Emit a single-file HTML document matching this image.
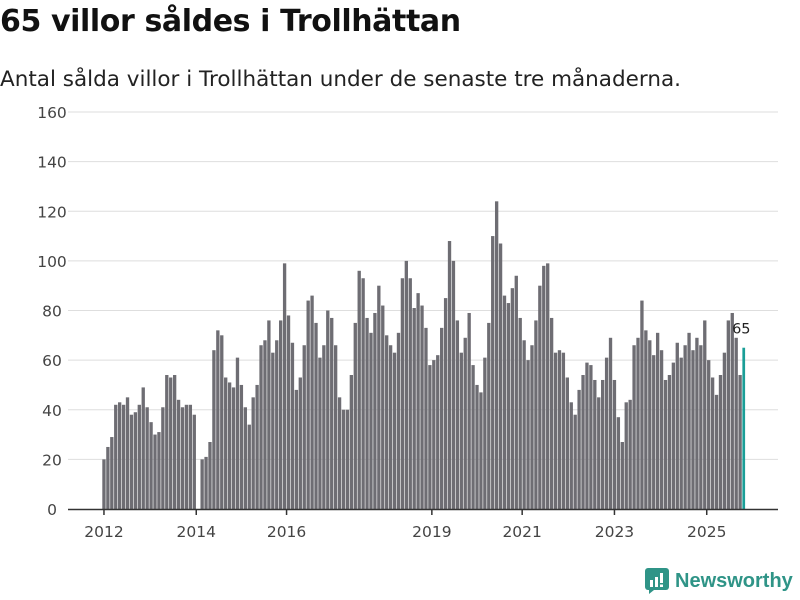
<!DOCTYPE html>
<html><head><meta charset="utf-8"><style>
body{margin:0;width:800px;height:600px;background:#fff;font-family:"DejaVu Sans","Liberation Sans",sans-serif;overflow:hidden;position:relative}
#title{position:absolute;left:0;top:4px;font-size:30px;font-weight:bold;color:#111;margin:0;letter-spacing:-0.4px}
#sub{position:absolute;left:0;top:67px;font-size:21.5px;color:#222}
svg{position:absolute;left:0;top:0}
#logo{position:absolute;left:645px;top:568px;display:flex;align-items:center;gap:6px;color:#2f9487;font-size:20px;font-weight:bold;font-family:"Liberation Sans",sans-serif}
</style></head><body>
<h1 id="title">65 villor såldes i Trollhättan</h1>
<div id="sub">Antal sålda villor i Trollhättan under de senaste tre månaderna.</div>
<svg id="chart" width="800" height="600"></svg>
<div id="logo"><svg width="24" height="26" viewBox="0 0 24 26" style="position:static"><rect x="0" y="0" width="24" height="22" rx="3" fill="#2f9487"/><path d="M4 22 L4 26 L9 22Z" fill="#2f9487"/><rect x="5" y="12" width="3" height="7" fill="#fff"/><rect x="10" y="9" width="3" height="10" fill="#fff"/><rect x="15" y="5" width="3" height="10" fill="#fff"/><rect x="15" y="16.5" width="3" height="2.5" fill="#fff"/></svg><span>Newsworthy</span></div>
<script>
const values=[20,25,29,42,43,42,45,38,39,42,49,41,35,30,31,41,54,53,54,44,41,42,42,38,0,
20,21,27,64,72,70,53,51,49,61,50,41,34,45,50,66,68,76,63,68,
76,99,78,67,48,53,66,84,86,75,61,66,80,77,66,45,40,40,54,75,
96,93,77,71,79,90,82,70,66,63,71,93,100,93,81,87,82,73,58,60,
62,73,85,108,100,76,63,69,79,58,50,47,61,75,110,124,107,86,83,89,
94,77,68,60,66,76,90,98,99,77,63,64,63,53,43,38,48,54,59,58,
52,45,52,61,69,52,37,27,43,44,66,69,84,72,68,62,71,64,52,54,
59,67,61,66,71,64,69,66,76,60,53,46,54,63,76,79,69,54,65];
const yTicks=[0,20,40,60,80,100,120,140,160];
const xTickLabels=["2012","2014","2016","2019","2021","2023","2025"];
const xTickIndex=[0,23.5,46.5,83.5,106.5,130,153.5];
const NS="http://www.w3.org/2000/svg",svg=document.getElementById("chart");
const x0=102,x1=746,y0=509,y1=112,n=values.length,step=(x1-x0)/n;
const X=i=>x0+i*step, Y=v=>y0-(v/160)*(y0-y1);
function mk(t,a){const e=document.createElementNS(NS,t);for(const k in a)e.setAttribute(k,a[k]);svg.appendChild(e);return e;}
yTicks.forEach(v=>{
 if(v>0){const g=mk("line",{x1:68,x2:778,y1:Y(v),y2:Y(v),stroke:"#dedede","stroke-width":1});
 
 }
 const t=mk("text",{x:52,y:Y(v)+6,"text-anchor":"middle","font-size":15.5,fill:"#444"});t.textContent=v;
 
 
});
values.forEach((v,i)=>{
 const last=i===n-1;
 const r=mk("rect",{x:X(i)+0.3,y:Y(v),width:step-(last?1.2:0.6),height:y0-Y(v),fill:last?"#1a9e97":"#6e6d73"});
 
 
});
const lt=mk("text",{x:X(n-1)-10,y:Y(values[n-1])-14,"font-size":14.5,fill:"#222"});lt.textContent=values[n-1];


const ax=mk("line",{x1:68,x2:778,y1:y0+0.5,y2:y0+0.5,stroke:"#333","stroke-width":1.5});


xTickLabels.forEach((l,k)=>{
 const cx=X(xTickIndex[k])+step/2;
 const tk=mk("line",{x1:cx,x2:cx,y1:y0,y2:y0+6,stroke:"#333","stroke-width":1.5});
 
 
 const t=mk("text",{x:cx,y:y0+28,"text-anchor":"middle","font-size":15.5,fill:"#444"});t.textContent=l;
 
 
});
</script>
</body></html>
